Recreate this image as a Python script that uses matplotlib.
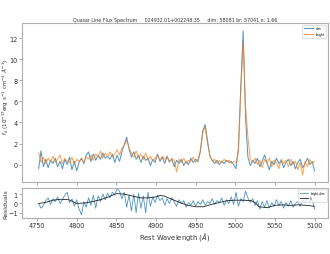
import matplotlib
matplotlib.use("Agg")
import matplotlib.pyplot as plt
import numpy as np

# rest wavelength grid (Angstrom)
wave = np.arange(4752, 5101, 3)

flux_dim = [
    -0.4, 1.3, -0.2, 0.5, -0.3, 0.4, 0.1, 0.6, -0.2, 0.3,
    -0.4, 0.5, 0.0, 0.7, -0.5, 0.3, -0.6, 0.2, 0.6, 0.1,
    0.9, 1.2, 0.3, 1.0, 0.4, 0.9, 0.5, 1.1, 0.6, 0.8,
    0.5, 1.0, 0.2, 0.9, 0.3, 1.2, 1.9, 2.6, 1.5, 0.7,
    1.2, 0.5, 0.9, 0.2, 0.8, 0.4, 0.6, -0.1, 0.5, 0.2,
    1.0, 0.3, 0.7, 0.1, 0.8, 0.3, 0.5, -0.2, 0.4, 0.1,
    0.5, -0.1, 0.3, 0.0, 0.6, 0.2, 0.5, 0.3, 1.2, 3.2,
    3.8, 2.3, 0.8, 0.4, 0.1, 0.4, 0.0, 0.3, 0.1, 0.4,
    0.2, 0.3, 0.0, -0.4, 1.6, 7.5, 12.7, 4.5, 0.7, -0.1,
    0.4, 0.1, 0.6, -0.2, 0.3, 0.9, 0.2, -0.5, 0.3, 0.0,
    0.6, 0.1, 0.4, -0.3, 0.2, 0.5, -0.1, 0.3, -0.4, 0.2,
    0.5, -0.3, 0.1, 0.6, 0.0, 0.3, -0.6,
]

flux_bright = [
    1.1, 0.2, 0.7, 0.1, 0.6, 0.3, 0.8, 0.2, 0.5, 0.9,
    0.1, 0.6, 0.3, 0.2, 0.7, 0.0, 0.5, 0.3, 0.6, 0.2,
    0.7, 0.5, 0.9, 0.4, 1.0, 0.7, 1.3, 0.6, 1.1, 0.8,
    1.2, 0.7, 1.0, 1.4, 0.9, 1.6, 1.8, 2.3, 1.6, 1.1,
    0.7, 1.3, 0.6, 1.0, 0.5, 1.1, 0.4, 0.8, 0.3, 0.6,
    0.9, 0.4, 0.8, 0.5, 0.7, 0.2, 0.6, 0.4, -0.7, 0.5,
    0.2, 0.6, 0.1, 0.4, 0.3, 0.7, 0.2, 0.5, 1.4, 3.0,
    3.6, 2.0, 0.9, 0.3, 0.5, 0.1, 0.4, 0.2, 0.5, 0.3,
    0.4, 0.1, 0.3, 0.2, 1.2, 6.8, 11.6, 5.5, 2.6, 0.5,
    0.2, 0.6, 0.0, 0.4, -0.3, 0.5, 0.1, 0.6, -0.2, 0.4,
    0.2, -0.4, 0.5, 0.1, 0.4, -0.2, 0.5, 0.0, 0.3, -0.5,
    0.2, -1.0, 0.3, -0.2, 0.5, 0.1, 0.3,
]

resid = [
    0.0, -0.5, -0.2, 0.3, 0.6, -0.1, 0.5, 0.2, 0.7, 0.0,
    0.4, 0.9, 1.2, 0.1, 0.5, -0.3, 0.4, -0.6, -1.2, 0.2,
    -0.4, 0.6, -0.2, 0.9, -0.5, 0.8, 0.2, 1.0, 0.4, 1.1,
    0.6, 1.2, 0.9, 1.6, 1.3, 0.5, 1.2, -0.4, 0.9, -0.8,
    1.0, -1.0, 1.1, -0.5, 0.8, -1.0, 1.2, -0.3, 0.7, 0.1,
    0.9, 0.3, 0.6, -0.2, 0.5, 0.0, 0.6, 0.2, -0.3, 0.4,
    0.0, 0.3, -0.4, 0.1, -0.2, 0.3, -0.3, 0.2, -0.1, 0.4,
    -0.2, 0.2, 0.0, 0.5, -0.1, 0.3, 0.1, 0.6, -0.2, 0.4,
    0.0, 0.7, -0.1, 1.2, -0.3, 0.5, 0.2, 1.3, 0.6, 0.1,
    0.5, -0.2, 0.3, -0.6, 0.2, -0.4, 0.3, -0.5, 0.1, -0.3,
    0.4, -0.2, 0.2, -0.5, 0.1, -0.3, 0.3, -0.4, 0.0, 0.2,
    -0.3, 0.4, 0.1, 0.6, 0.2, 0.4, -0.6,
]

fit_wave = [4752, 4760, 4770, 4780, 4790, 4800, 4810, 4820, 4830, 4840,
            4850, 4860, 4870, 4880, 4890, 4900, 4905, 4910, 4920, 4930,
            4940, 4950, 4960, 4970, 4980, 4990, 5000, 5010, 5020, 5025,
            5030, 5040, 5050, 5060, 5070, 5080, 5090, 5100]
fit_vals = [0.0, 0.1, 0.35, 0.45, 0.4, 0.0, 0.05, 0.2, 0.4, 0.7,
            1.05, 1.0, 0.8, 0.6, 0.6, 0.7, 0.85, 0.8, 0.45, 0.1,
            -0.2, -0.35, -0.35, -0.1, 0.1, 0.3, 0.35, 0.35, 0.3, 0.1,
            -0.35, -0.45, -0.2, -0.15, -0.2, -0.15, -0.2, -0.3]

title = ("Quasar Line Flux Spectrum     024932.01+002248.35     "
         "dim: 58081 br: 57041 n: 1.66")

W, H = 330, 255
fig = plt.figure(figsize=(W / 100, H / 100), dpi=100)


def px_axes(x0, y0, x1, y1):
    return fig.add_axes([x0 / W, 1 - y1 / H, (x1 - x0) / W, (y1 - y0) / H])


def style(ax):
    for s in ax.spines.values():
        s.set_color("#b0b0b0")
        s.set_linewidth(0.8)
    ax.tick_params(labelsize=4.7, length=2, width=0.5, pad=1.2,
                   color="#888888", labelcolor="#333333")


ax = px_axes(22, 24, 328, 183)
ax.plot(wave, flux_dim, color="#1f77b4", lw=0.7, alpha=0.8, label="dim")
ax.plot(wave, flux_bright, color="#ff7f0e", lw=0.7, alpha=0.75, label="bright")
ax.set_xlim(4731, 5117)
ax.set_ylim(-1.66, 13.46)
ax.set_yticks([0, 2, 4, 6, 8, 10, 12])
ax.set_xticks([4750, 4800, 4850, 4900, 4950, 5000, 5050, 5100])
ax.set_xticklabels([])
ax.set_ylabel(r"f$_\lambda$ (10$^{-17}$erg s$^{-1}$ cm$^{-2}$ $\AA^{-1}$)",
              fontsize=4.1, color="#333333")
ax.yaxis.set_label_coords(-0.037, 0.54)
ax.set_title(title, fontsize=3.4, color="#333333", pad=1.5)
style(ax)
ax.legend(loc="upper right", fontsize=2.2, handlelength=3, frameon=True,
          borderpad=0.6, labelspacing=0.5, fancybox=False, edgecolor="#dddddd")

rax = px_axes(22, 189, 328, 219)
rax.plot(wave, resid, color="#1f77b4", lw=0.6, alpha=0.8, label="bright-dim")
rax.plot(fit_wave, fit_vals, color="#222222", lw=0.6, label="fit")
rax.set_xlim(4731, 5117)
rax.set_ylim(-1.55, 1.65)
rax.set_yticks([-1, 0, 1])
rax.set_xticks([4750, 4800, 4850, 4900, 4950, 5000, 5050, 5100])
rax.set_xlabel(r"Rest Wavelength ($\AA$)", fontsize=4.9, color="#333333",
               labelpad=1)
rax.set_ylabel("Residuals", fontsize=4.5, color="#333333")
rax.yaxis.set_label_coords(-0.046, 0.5)
style(rax)
rax.legend(loc="upper right", fontsize=2.0, handlelength=3, frameon=True,
           borderpad=0.6, labelspacing=0.5, fancybox=False, edgecolor="#dddddd")

fig.savefig("out.png", dpi=100)
